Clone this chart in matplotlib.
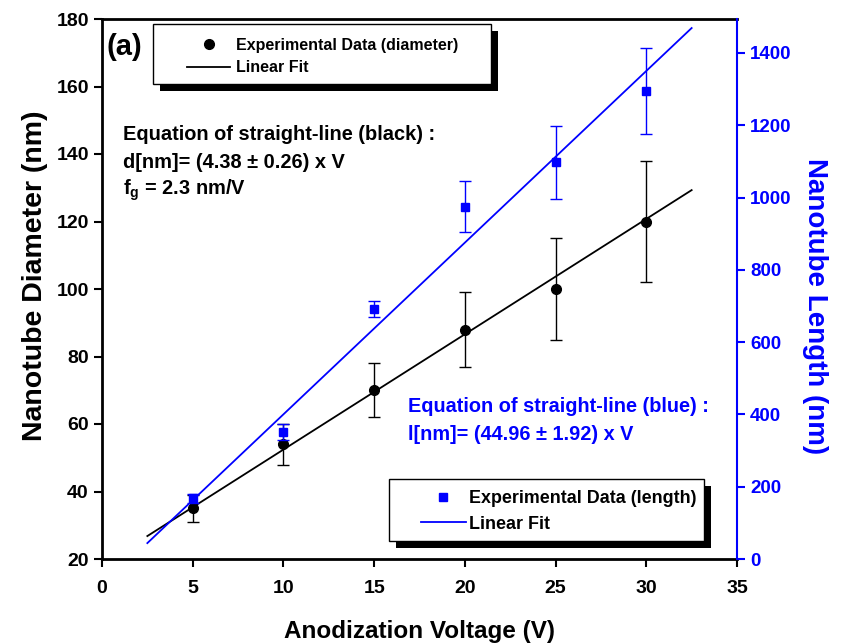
import matplotlib
matplotlib.use("Agg")
import matplotlib.pyplot as plt
import matplotlib.patheffects as pe
from matplotlib.patches import Rectangle
from matplotlib.lines import Line2D

# ==============================
# DATA
# ==============================
voltage = [5, 10, 15, 20, 25, 30]

diameter = [35, 54, 70, 88, 100, 120]
diameter_err = [4, 6, 8, 11, 15, 18]

length = [168, 351, 692, 975, 1097, 1295]
length_err = [12, 22, 22, 70, 100, 120]

fit_x = [2.5, 32.5]
fit_diameter = [26.8, 129.3]
fit_length = [44, 1469]

x_ticks = [0, 5, 10, 15, 20, 25, 30, 35]
d_ticks = [20, 40, 60, 80, 100, 120, 140, 160, 180]
l_ticks = [0, 200, 400, 600, 800, 1000, 1200, 1400]

W, H = 841, 644

plt.rcParams['font.family'] = ['Liberation Sans', 'DejaVu Sans']
plt.rcParams['font.weight'] = 'bold'
plt.rcParams['mathtext.fontset'] = 'custom'
plt.rcParams['mathtext.rm'] = 'Liberation Sans:bold'
plt.rcParams['mathtext.it'] = 'Liberation Sans:bold'
plt.rcParams['mathtext.bf'] = 'Liberation Sans:bold'


def fig_xy(px, py):
    # pixel position (from top-left) -> figure fraction
    return px / W, 1 - py / H


fig = plt.figure(figsize=(W / 100, H / 100), dpi=100)
x0, y0 = fig_xy(102, 559)
x1, y1 = fig_xy(737, 19)
ax = fig.add_axes([x0, y0, x1 - x0, y1 - y0])
ax2 = ax.twinx()

# ==============================
# BLACK: diameter
# ==============================
ax.errorbar(voltage, diameter, yerr=diameter_err, fmt='o', color='black',
            ms=7, elinewidth=1, capsize=4, capthick=1, zorder=3)
ax.plot(fit_x, fit_diameter, color='black', lw=1.3, zorder=2)

ax.set_xlim(0, 35)
ax.set_ylim(20, 180)
ax.set_xticks(x_ticks)
ax.set_yticks(d_ticks)
ax.tick_params(direction='out', length=6, width=1.5, labelsize=14)
ax.tick_params(axis='x', pad=9)
for s in ['left', 'bottom', 'top']:
    ax.spines[s].set_linewidth(2)
ax.spines['right'].set_visible(False)
# label sits low, its descenders run off the bottom edge like the original
ax.set_xlabel("Anodization Voltage (V)", fontsize=17.5, fontweight='bold',
              va='baseline')
ax.xaxis.set_label_coords(0.5, (559 - 638) / 540)
ax.set_ylabel("Nanotube Diameter (nm)", fontsize=20.5, fontweight='bold', va='center')
ax.yaxis.set_label_coords((35 - 102) / 635, (559 - 276) / 540)

# ==============================
# BLUE: length
# ==============================
ax2.errorbar(voltage, length, yerr=length_err, fmt='s', color='blue',
             ms=6, elinewidth=1, capsize=4, capthick=1, zorder=3)
ax2.plot(fit_x, fit_length, color='blue', lw=1.3, zorder=2)
ax2.set_ylim(0, 1494)
ax2.set_yticks(l_ticks)
ax2.tick_params(axis='y', direction='out', length=6, width=1.5, labelsize=13.5,
                colors='blue')
ax2.spines['right'].set_color('blue')
ax2.spines['right'].set_linewidth(1.5)
for s in ['left', 'bottom', 'top']:
    ax2.spines[s].set_visible(False)
ax2.set_ylabel("Nanotube Length (nm)", fontsize=20, fontweight='bold',
               color='blue', rotation=270, va='center')
ax2.yaxis.set_label_coords((815 - 102) / 635, (559 - 306) / 540)

# ==============================
# TEXT
# ==============================
fig.text(*fig_xy(106, 47), "(a)", fontsize=21, fontweight='bold', va='center')
eq_black = ["Equation of straight-line (black) :",
            "d[nm]= (4.38 \u00b1 0.26) x V",
            r"f$_{\mathrm{g}}$ = 2.3 nm/V"]
for txt, py in zip(eq_black, [134, 162, 190]):
    fig.text(*fig_xy(123, py), txt, fontsize=14.4, fontweight='bold', va='center')
eq_blue = ["Equation of straight-line (blue) :",
           "l[nm]= (44.96 \u00b1 1.92) x V"]
for txt, py in zip(eq_blue, [407, 434]):
    fig.text(*fig_xy(408, py), txt, fontsize=14.3, fontweight='bold',
             va='center', color='blue')

# ==============================
# LEGENDS (Origin style boxes with black shadow)
# ==============================
shadow = [pe.SimplePatchShadow(offset=(5, -5), shadow_rgbFace='black', alpha=1),
          pe.Normal()]


def box(axis, left, top, right, bottom):
    bx, by = fig_xy(left, bottom)
    tx, ty = fig_xy(right, top)
    r = Rectangle((bx, by), tx - bx, ty - by, transform=fig.transFigure,
                  fc='white', ec='black', lw=1, zorder=6, clip_on=False)
    r.set_path_effects(shadow)
    axis.add_patch(r)


box(ax, 153, 24, 491, 84)
h1 = [Line2D([], [], ls='none', marker='o', color='black', ms=7),
      Line2D([], [], color='black', lw=1.3)]
leg1 = ax.legend(h1, ["Experimental Data (diameter)", "Linear Fit"],
                 loc='center left', bbox_to_anchor=fig_xy(187, 56.5),
                 bbox_transform=fig.transFigure, frameon=False, fontsize=11.5,
                 handlelength=2.7, handletextpad=0.35, borderpad=0,
                 borderaxespad=0, labelspacing=0.5)
leg1.set_zorder(7)

box(ax2, 389, 479, 704, 541)
h2 = [Line2D([], [], ls='none', marker='s', color='blue', ms=6),
      Line2D([], [], color='blue', lw=1.3)]
leg2 = ax2.legend(h2, ["Experimental Data (length)", "Linear Fit"],
                  loc='center left', bbox_to_anchor=fig_xy(421, 511.5),
                  bbox_transform=fig.transFigure, frameon=False, fontsize=12.9,
                  handlelength=2.5, handletextpad=0.2, borderpad=0,
                  borderaxespad=0, labelspacing=0.45)
leg2.set_zorder(7)

fig.savefig("out.png", dpi=100)
